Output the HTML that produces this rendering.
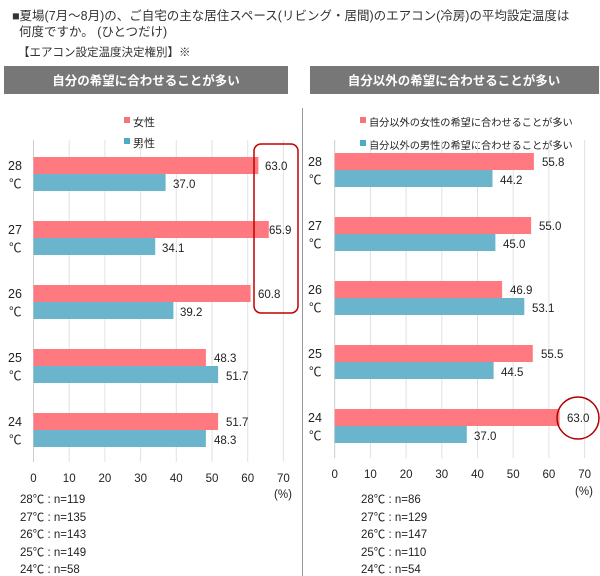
<!DOCTYPE html>
<html><head><meta charset="utf-8"><style>
body{margin:0;background:#fff;}
svg{display:block;font-family:"Liberation Sans","Noto Sans CJK JP",sans-serif;}
</style></head><body>
<svg width="600" height="576" viewBox="0 0 600 576" xmlns="http://www.w3.org/2000/svg">
<rect width="600" height="576" fill="#fff"/>
<g font-size="12.5" fill="#333">
<text x="12" y="20">■夏場(7月～8月)の、ご自宅の主な居住スペース(リビング・居間)のエアコン(冷房)の平均設定温度は</text>
<text x="19" y="36">何度ですか。 (ひとつだけ)</text>
<text x="18" y="56" font-size="11.5">【エアコン設定温度決定権別】※</text>
</g>
<rect x="4" y="66" width="284" height="28" fill="#777"/>
<rect x="310" y="66" width="289" height="28" fill="#777"/>
<text x="146" y="85" font-size="12.5" font-weight="bold" fill="#fff" text-anchor="middle">自分の希望に合わせることが多い</text>
<text x="454" y="85" font-size="12.5" font-weight="bold" fill="#fff" text-anchor="middle">自分以外の希望に合わせることが多い</text>
<line x1="302.5" y1="108" x2="302.5" y2="576" stroke="#999" stroke-width="1"/>
<g font-size="11" fill="#222">
<rect x="124" y="117" width="6" height="6" fill="#f4747a"/><text x="133" y="126">女性</text>
<rect x="124" y="138" width="6" height="6" fill="#4bacc6"/><text x="133" y="147">男性</text>
</g>
<g font-size="10.2" fill="#222">
<rect x="360" y="117" width="6" height="6" fill="#f4747a"/><text x="369" y="126">自分以外の女性の希望に合わせることが多い</text>
<rect x="360" y="140" width="6" height="6" fill="#4bacc6"/><text x="369" y="149">自分以外の男性の希望に合わせることが多い</text>
</g>
<g stroke="#e2e2e2" stroke-width="1">
<line x1="69.2" y1="140" x2="69.2" y2="462"/><line x1="104.9" y1="140" x2="104.9" y2="462"/><line x1="140.6" y1="140" x2="140.6" y2="462"/><line x1="176.3" y1="140" x2="176.3" y2="462"/><line x1="212" y1="140" x2="212" y2="462"/><line x1="247.7" y1="140" x2="247.7" y2="462"/><line x1="283.4" y1="140" x2="283.4" y2="462"/>
<line x1="370.4" y1="140" x2="370.4" y2="458"/><line x1="406.1" y1="140" x2="406.1" y2="458"/><line x1="441.8" y1="140" x2="441.8" y2="458"/><line x1="477.5" y1="140" x2="477.5" y2="458"/><line x1="513.2" y1="140" x2="513.2" y2="458"/><line x1="548.9" y1="140" x2="548.9" y2="458"/><line x1="584.6" y1="140" x2="584.6" y2="458"/>
</g>
<line x1="33.5" y1="140" x2="33.5" y2="462" stroke="#ccc"/>
<line x1="334.7" y1="140" x2="334.7" y2="458" stroke="#ccc"/>
<g>
<rect x="33.5" y="157" width="224.9" height="17" fill="#ff7a80"/><rect x="33.5" y="174" width="132.1" height="17" fill="#6bb5cc"/>
<rect x="33.5" y="221" width="235.3" height="17" fill="#ff7a80"/><rect x="33.5" y="238" width="121.7" height="17" fill="#6bb5cc"/>
<rect x="33.5" y="285" width="217.1" height="17" fill="#ff7a80"/><rect x="33.5" y="302" width="139.9" height="17" fill="#6bb5cc"/>
<rect x="33.5" y="349" width="172.4" height="17" fill="#ff7a80"/><rect x="33.5" y="366" width="184.6" height="17" fill="#6bb5cc"/>
<rect x="33.5" y="413" width="184.6" height="17" fill="#ff7a80"/><rect x="33.5" y="430" width="172.4" height="17" fill="#6bb5cc"/>
</g>
<g>
<rect x="334.7" y="153" width="199.2" height="17" fill="#ff7a80"/><rect x="334.7" y="170" width="157.8" height="17" fill="#6bb5cc"/>
<rect x="334.7" y="217" width="196.4" height="17" fill="#ff7a80"/><rect x="334.7" y="234" width="160.7" height="17" fill="#6bb5cc"/>
<rect x="334.7" y="281" width="167.4" height="17" fill="#ff7a80"/><rect x="334.7" y="298" width="189.6" height="17" fill="#6bb5cc"/>
<rect x="334.7" y="345" width="198.1" height="17" fill="#ff7a80"/><rect x="334.7" y="362" width="158.9" height="17" fill="#6bb5cc"/>
<rect x="334.7" y="409" width="224.9" height="17" fill="#ff7a80"/><rect x="334.7" y="426" width="132.1" height="17" fill="#6bb5cc"/>
</g>
<g font-size="11.5" fill="#222">
<text x="265" y="170">63.0</text><text x="173" y="188">37.0</text>
<text x="269" y="234">65.9</text><text x="162" y="252">34.1</text>
<text x="258" y="298">60.8</text><text x="180" y="316">39.2</text>
<text x="214" y="362">48.3</text><text x="226" y="380">51.7</text>
<text x="226" y="426">51.7</text><text x="214" y="444">48.3</text>
<text x="542" y="166">55.8</text><text x="500" y="184">44.2</text>
<text x="539" y="230">55.0</text><text x="503" y="248">45.0</text>
<text x="510" y="294">46.9</text><text x="532" y="312">53.1</text>
<text x="541" y="358">55.5</text><text x="501" y="376">44.5</text>
<text x="567" y="422">63.0</text><text x="474" y="440">37.0</text>
</g>
<g font-size="12.5" fill="#222">
<text x="8" y="170">28</text><text x="9" y="188">℃</text>
<text x="8" y="234">27</text><text x="9" y="252">℃</text>
<text x="8" y="298">26</text><text x="9" y="316">℃</text>
<text x="8" y="362">25</text><text x="9" y="380">℃</text>
<text x="8" y="426">24</text><text x="9" y="444">℃</text>
<text x="308" y="166">28</text><text x="309" y="184">℃</text>
<text x="308" y="230">27</text><text x="309" y="248">℃</text>
<text x="308" y="294">26</text><text x="309" y="312">℃</text>
<text x="308" y="358">25</text><text x="309" y="376">℃</text>
<text x="308" y="422">24</text><text x="309" y="440">℃</text>
</g>
<rect x="254" y="144" width="44" height="169" rx="7" fill="none" stroke="#c00000" stroke-width="1.5"/>
<circle cx="578" cy="418" r="21" fill="none" stroke="#b00000" stroke-width="1.5"/>
<g font-size="11.5" fill="#222" text-anchor="middle">
<text x="33.5" y="482">0</text><text x="69.2" y="482">10</text><text x="104.9" y="482">20</text><text x="140.6" y="482">30</text><text x="176.3" y="482">40</text><text x="212" y="482">50</text><text x="247.7" y="482">60</text><text x="283.4" y="482">70</text>
<text x="283" y="498">(%)</text>
<text x="334.7" y="478">0</text><text x="370.4" y="478">10</text><text x="406.1" y="478">20</text><text x="441.8" y="478">30</text><text x="477.5" y="478">40</text><text x="513.2" y="478">50</text><text x="548.9" y="478">60</text><text x="584.6" y="478">70</text>
<text x="584" y="495">(%)</text>
</g>
<g font-size="11.5" fill="#222">
<text x="20" y="503">28℃ : n=119</text><text x="20" y="521">27℃ : n=135</text><text x="20" y="538">26℃ : n=143</text><text x="20" y="556">25℃ : n=149</text><text x="20" y="573">24℃ : n=58</text>
<text x="361" y="503">28℃ : n=86</text><text x="361" y="521">27℃ : n=129</text><text x="361" y="538">26℃ : n=147</text><text x="361" y="556">25℃ : n=110</text><text x="361" y="573">24℃ : n=54</text>
</g>
</svg>
</body></html>
